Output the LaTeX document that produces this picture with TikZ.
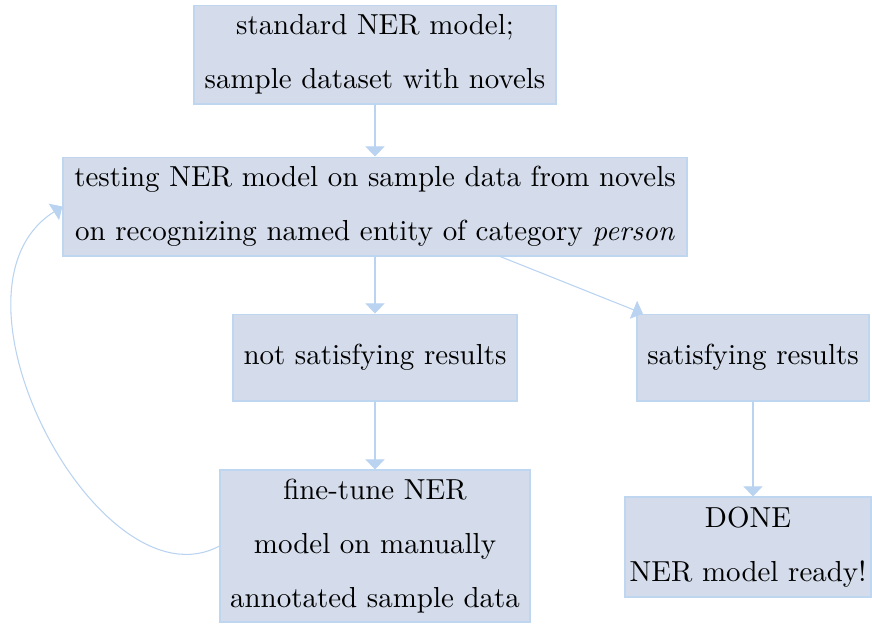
\documentclass[tikz,border=0pt]{standalone}
\usetikzlibrary{arrows.meta}
\definecolor{boxfill}{RGB}{212,220,235}
\definecolor{boxline}{RGB}{190,214,240}
\definecolor{flow}{RGB}{185,211,240}
\begin{document}
\begin{tikzpicture}[x=0.375pt,y=-0.375pt,
  box/.style={draw=boxline,fill=boxfill,line width=0.4pt,align=center,
    inner sep=0pt,font=\fontsize{10.86}{20.25}\selectfont},
  flowarrow/.style={draw=flow,line width=0.4pt,-{Triangle[width=7.2pt,length=3.8pt]}}]
\useasboundingbox (0,0) rectangle (872,624);
\node[box,minimum width=135.75pt,minimum height=37.1pt] (std) at (375,54.5)
  {standard NER model;\\sample dataset with novels};
\node[box,minimum width=234pt,minimum height=37.1pt] (test) at (375,206.5)
  {testing NER model on sample data from novels\\on recognizing named entity of category \emph{person}};
\node[box,minimum width=106.5pt,minimum height=32.6pt] (bad) at (375,357.5)
  {not satisfying results};
\node[box,minimum width=87pt,minimum height=32.6pt] (good) at (753,357.5)
  {satisfying results};
\node[box,minimum width=116.25pt,minimum height=57pt] (tune) at (375,546)
  {fine-tune NER\\model on manually\\annotated sample data};
\node[box,minimum width=92.25pt,minimum height=37.5pt] (done) at (748,547)
  {DONE\\NER model ready!};
\draw[flowarrow] (std) -- (test);
\draw[flowarrow] (test) -- (bad);
\draw[flowarrow] (test) -- (good);
\draw[flowarrow] (bad) -- (tune);
\draw[flowarrow] (good) -- (good |- done.north);
\draw[flowarrow] (tune.west) .. controls (100,610) and (-70,290) .. (test.west);
\end{tikzpicture}
\end{document}
